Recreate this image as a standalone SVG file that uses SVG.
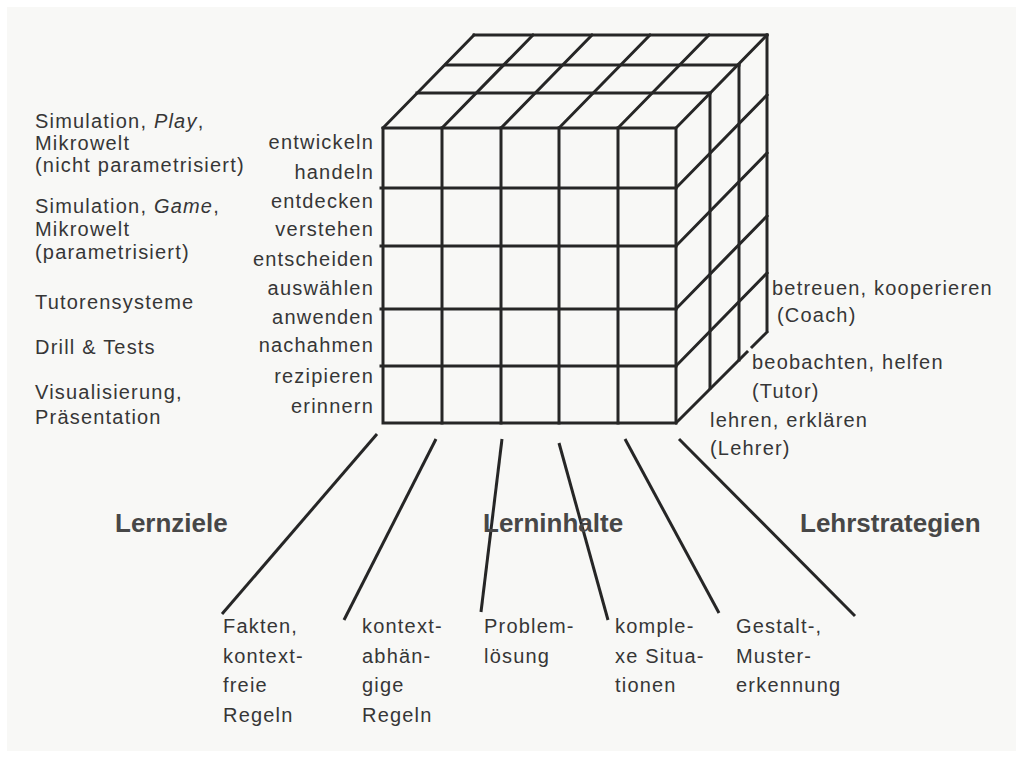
<svg xmlns="http://www.w3.org/2000/svg" width="1023" height="758" viewBox="0 0 1023 758">
<style>
.t{font-family:"Liberation Sans",Arial,sans-serif;font-size:20px;fill:#363636;letter-spacing:1.2px}
.e{text-anchor:end}
.b{font-family:"Liberation Sans",Arial,sans-serif;font-size:26px;font-weight:bold;fill:#474747}
.c{stroke:#262626;stroke-width:3;fill:none;stroke-linecap:square}
.k{stroke:#262626;stroke-width:3;fill:none;stroke-linecap:butt}
</style>
<rect width="1023" height="758" fill="#ffffff"/>
<rect x="7" y="7" width="1009" height="744" fill="#f8f8f6"/>
<g id="cube" class="c">
<!-- front face -->
<rect x="383" y="128" width="293" height="295"/>
<path d="M442 128V423M501 128V423M559 128V423M618 128V423"/>
<path d="M381 188H676M381 246H676M381 309H676M381 366H676"/>
<!-- top face depth lines -->
<path d="M383 128L474 35M442 128L533 35M501 128L592 35M559 128L650 35M618 128L709 35M676 128L767 35"/>
<!-- top face layer lines -->
<path d="M417 93H710M446 65H739M474 35H767"/>
<!-- right face verticals -->
<path d="M710 93V388M739 65V360M767 35V330"/>
<!-- right face depth lines -->
<path d="M676 188L767 95M676 246L767 153M676 309L767 216M676 366L767 273"/>
<path d="M676 423L747 352M752 347L767 332"/>
</g>
<g id="connectors" class="k">
<line x1="377" y1="434" x2="222" y2="614"/>
<line x1="436" y1="439" x2="344" y2="620"/>
<line x1="502" y1="439" x2="481" y2="612"/>
<line x1="559" y1="443" x2="608" y2="620"/>
<line x1="625" y1="439" x2="719" y2="613"/>
<line x1="679" y1="439" x2="855" y2="616"/>
</g>
<g id="media-labels" class="t">
<text x="35" y="128">Simulation, <tspan font-style="italic">Play</tspan>,</text>
<text x="35" y="150">Mikrowelt</text>
<text x="35" y="172">(nicht parametrisiert)</text>
<text x="35" y="213">Simulation, <tspan font-style="italic">Game</tspan>,</text>
<text x="35" y="236">Mikrowelt</text>
<text x="35" y="259">(parametrisiert)</text>
<text x="35" y="309">Tutorensysteme</text>
<text x="35" y="354">Drill &amp; Tests</text>
<text x="35" y="399">Visualisierung,</text>
<text x="35" y="424">Präsentation</text>
</g>
<g id="goal-labels" class="t e">
<text x="374" y="149">entwickeln</text>
<text x="374" y="179">handeln</text>
<text x="374" y="208">entdecken</text>
<text x="374" y="236">verstehen</text>
<text x="374" y="266">entscheiden</text>
<text x="374" y="295">auswählen</text>
<text x="374" y="324">anwenden</text>
<text x="374" y="352">nachahmen</text>
<text x="374" y="383">rezipieren</text>
<text x="374" y="413">erinnern</text>
</g>
<g id="strategy-labels" class="t">
<text x="772" y="295">betreuen, kooperieren</text>
<text x="777" y="322">(Coach)</text>
<text x="752" y="369">beobachten, helfen</text>
<text x="752" y="398">(Tutor)</text>
<text x="710" y="427">lehren, erklären</text>
<text x="710" y="455">(Lehrer)</text>
</g>
<g id="axis-titles" class="b">
<text x="115" y="532">Lernziele</text>
<text x="483" y="532">Lerninhalte</text>
<text x="800" y="532">Lehrstrategien</text>
</g>
<g id="content-labels" class="t">
<text x="223" y="633">Fakten,</text>
<text x="223" y="663">kontext-</text>
<text x="223" y="692">freie</text>
<text x="223" y="722">Regeln</text>
<text x="362" y="633">kontext-</text>
<text x="362" y="663">abhän-</text>
<text x="362" y="692">gige</text>
<text x="362" y="722">Regeln</text>
<text x="484" y="633">Problem-</text>
<text x="484" y="663">lösung</text>
<text x="615" y="633">komple-</text>
<text x="615" y="663">xe Situa-</text>
<text x="615" y="692">tionen</text>
<text x="736" y="633">Gestalt-,</text>
<text x="736" y="663">Muster-</text>
<text x="736" y="692">erkennung</text>
</g>
</svg>
